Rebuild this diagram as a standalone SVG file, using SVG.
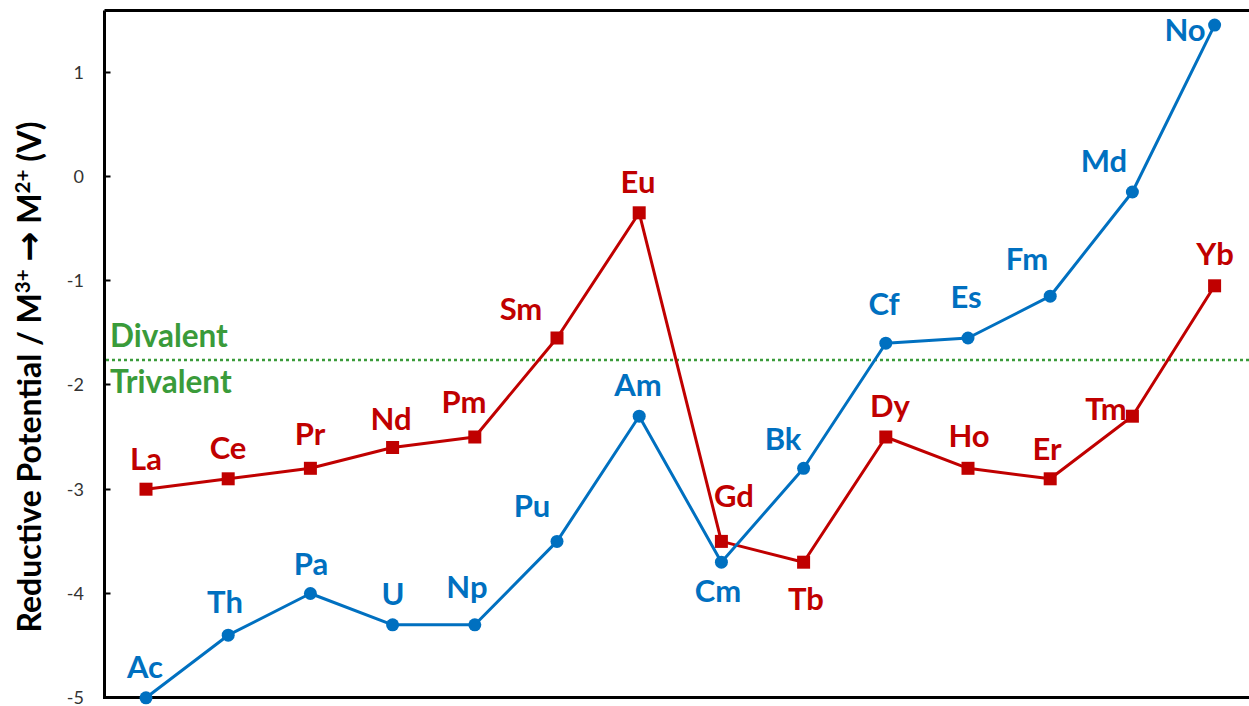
<svg xmlns="http://www.w3.org/2000/svg" width="1249" height="706" viewBox="0 0 1249 706">
<style>
.tick{font-family:Lato,"Open Sans",sans-serif;font-size:18px;fill:#333;text-anchor:end}
.lab{font-family:Lato,"Open Sans",sans-serif;font-size:31px;font-weight:700;text-anchor:middle}
.red{fill:#C00000}
.blue{fill:#0070C0}
.grn{font-family:Lato,"Open Sans",sans-serif;font-size:31.5px;font-weight:700;fill:#3A9B3A}
.lnr{fill:none;stroke:#C00000;stroke-width:3;stroke-linejoin:round}
.lnb{fill:none;stroke:#0070C0;stroke-width:3;stroke-linejoin:round}
</style>
<defs>
<rect id="sq" x="-6.5" y="-6.5" width="13" height="13" fill="#C00000"/>
<circle id="ci" r="6.5" fill="#0070C0"/>
</defs>
<rect width="1249" height="706" fill="#fff"/>
<g id="axes">
<path d="M104.5 10.5 H1249 M104.5 10.5 V697.5 H1249" fill="none" stroke="#000" stroke-width="3"/>
<path d="M104.5 72.5h6M104.5 176.5h6M104.5 280.5h6M104.5 384.5h6M104.5 489.5h6M104.5 593.5h6" stroke="#000" stroke-width="2"/>
<text class="tick" x="84" y="79">1</text>
<text class="tick" x="84" y="183">0</text>
<text class="tick" x="84" y="287">-1</text>
<text class="tick" x="84" y="391">-2</text>
<text class="tick" x="84" y="496">-3</text>
<text class="tick" x="84" y="600">-4</text>
<text class="tick" x="84" y="704">-5</text>
<text transform="translate(41,377) rotate(-90)" font-family="Lato,'Open Sans',sans-serif" font-weight="700" font-size="32" text-anchor="middle" fill="#000">Reductive Potential / M<tspan font-size="20.5" dy="-11.5">3+</tspan><tspan dy="11.5"> </tspan><tspan font-family="'DejaVu Sans',sans-serif" font-size="36">→</tspan> M<tspan font-size="20.5" dy="-11.5">2+</tspan><tspan dy="11.5"> (V)</tspan></text>
</g>
<g id="threshold">
<line x1="106" y1="360" x2="1249" y2="360" stroke="#3A9B3A" stroke-width="2.5" stroke-dasharray="3 3"/>
<text class="grn" x="110" y="347">Divalent</text>
<text class="grn" x="110" y="393">Trivalent</text>
</g>
<g id="connectors">
<polyline id="lanthanides-line" class="lnr" points="146,489.2 228.2,478.8 310.4,468.3 392.6,447.5 474.8,437 557,338 639.2,212.8 721.4,541.4 803.6,562.2 885.8,437 968,468.3 1050.2,478.8 1132.4,416.2 1214.6,285.8"/>
<polyline id="actinides-line" class="lnb" points="146,697.8 228.2,635.2 310.4,593.5 392.6,624.8 474.8,624.8 557,541.4 639.2,416.2 721.4,562.2 803.6,468.3 885.8,343.2 968,338 1050.2,296.2 1132.4,192 1214.6,25.1"/>
</g>
<g id="lanthanides">
<g id="La"><use href="#sq" x="146" y="489.2"/><text class="lab red" x="146" y="470">La</text></g>
<g id="Ce"><use href="#sq" x="228.2" y="478.8"/><text class="lab red" x="228" y="459">Ce</text></g>
<g id="Pr"><use href="#sq" x="310.4" y="468.3"/><text class="lab red" x="310" y="445">Pr</text></g>
<g id="Nd"><use href="#sq" x="392.6" y="447.5"/><text class="lab red" x="391" y="430">Nd</text></g>
<g id="Pm"><use href="#sq" x="474.8" y="437"/><text class="lab red" x="464" y="413">Pm</text></g>
<g id="Sm"><use href="#sq" x="557" y="338"/><text class="lab red" x="521" y="320">Sm</text></g>
<g id="Eu"><use href="#sq" x="639.2" y="212.8"/><text class="lab red" x="638" y="193">Eu</text></g>
<g id="Gd"><use href="#sq" x="721.4" y="541.4"/><text class="lab red" x="734" y="507">Gd</text></g>
<g id="Tb"><use href="#sq" x="803.6" y="562.2"/><text class="lab red" x="806" y="610">Tb</text></g>
<g id="Dy"><use href="#sq" x="885.8" y="437"/><text class="lab red" x="890" y="417">Dy</text></g>
<g id="Ho"><use href="#sq" x="968" y="468.3"/><text class="lab red" x="969" y="447">Ho</text></g>
<g id="Er"><use href="#sq" x="1050.2" y="478.8"/><text class="lab red" x="1047" y="460">Er</text></g>
<g id="Tm"><use href="#sq" x="1132.4" y="416.2"/><text class="lab red" x="1106" y="420">Tm</text></g>
<g id="Yb"><use href="#sq" x="1214.6" y="285.8"/><text class="lab red" x="1215" y="265">Yb</text></g>
</g>
<g id="actinides">
<g id="Ac"><use href="#ci" x="146" y="697.8"/><text class="lab blue" x="145" y="678">Ac</text></g>
<g id="Th"><use href="#ci" x="228.2" y="635.2"/><text class="lab blue" x="225" y="613">Th</text></g>
<g id="Pa"><use href="#ci" x="310.4" y="593.5"/><text class="lab blue" x="311" y="575">Pa</text></g>
<g id="U"><use href="#ci" x="392.6" y="624.8"/><text class="lab blue" x="393" y="605">U</text></g>
<g id="Np"><use href="#ci" x="474.8" y="624.8"/><text class="lab blue" x="467" y="598">Np</text></g>
<g id="Pu"><use href="#ci" x="557" y="541.4"/><text class="lab blue" x="532" y="517">Pu</text></g>
<g id="Am"><use href="#ci" x="639.2" y="416.2"/><text class="lab blue" x="638" y="396">Am</text></g>
<g id="Cm"><use href="#ci" x="721.4" y="562.2"/><text class="lab blue" x="718" y="602">Cm</text></g>
<g id="Bk"><use href="#ci" x="803.6" y="468.3"/><text class="lab blue" x="783" y="450">Bk</text></g>
<g id="Cf"><use href="#ci" x="885.8" y="343.2"/><text class="lab blue" x="884" y="315">Cf</text></g>
<g id="Es"><use href="#ci" x="968" y="338"/><text class="lab blue" x="966" y="308">Es</text></g>
<g id="Fm"><use href="#ci" x="1050.2" y="296.2"/><text class="lab blue" x="1027" y="270">Fm</text></g>
<g id="Md"><use href="#ci" x="1132.4" y="192"/><text class="lab blue" x="1104" y="172">Md</text></g>
<g id="No"><use href="#ci" x="1214.6" y="25.1"/><text class="lab blue" x="1185" y="41">No</text></g>
</g>
</svg>
